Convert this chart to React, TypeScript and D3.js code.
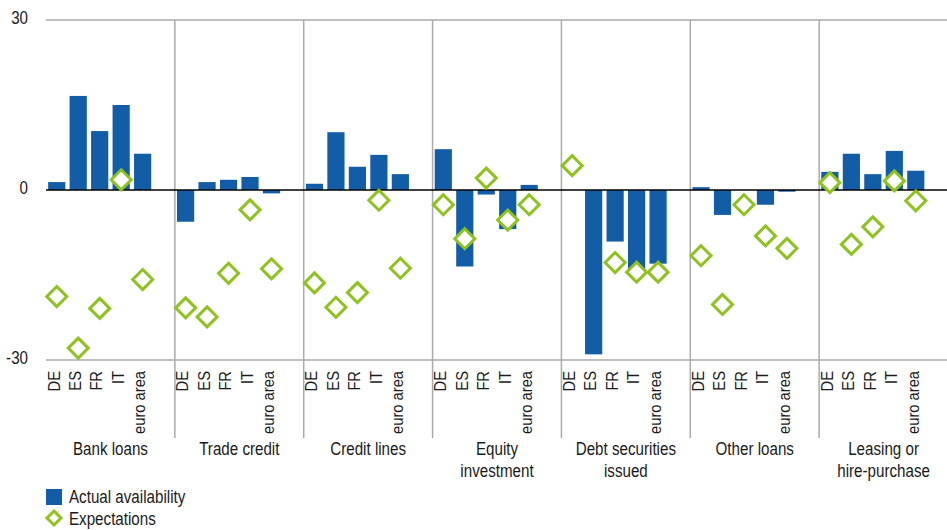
import React from "react";
import * as d3 from "d3";

const groups = [
  "Bank loans",
  "Trade credit",
  "Credit lines",
  "Equity investment",
  "Debt securities issued",
  "Other loans",
  "Leasing or hire-purchase",
];
const groupTitleLines = [
  ["Bank loans"],
  ["Trade credit"],
  ["Credit lines"],
  ["Equity", "investment"],
  ["Debt securities", "issued"],
  ["Other loans"],
  ["Leasing or", "hire-purchase"],
];
const countries = ["DE", "ES", "FR", "IT", "euro area"];

// Actual availability (bars), one row per group, columns = countries
const bankLoansActual = [1.4, 16.6, 10.4, 15.0, 6.4];
const tradeCreditActual = [-5.6, 1.4, 1.8, 2.3, -0.6];
const creditLinesActual = [1.1, 10.2, 4.1, 6.2, 2.8];
const equityActual = [7.2, -13.5, -0.8, -6.9, 0.9];
const debtActual = [null, -29.0, -9.1, -14.1, -13.0];
const otherLoansActual = [0.5, -4.4, null, -2.6, -0.3];
const leasingActual = [3.2, 6.4, 2.8, 6.9, 3.4];

// Expectations (diamonds)
const bankLoansExp = [-18.8, -27.9, -20.9, 1.8, -15.8];
const tradeCreditExp = [-20.8, -22.4, -14.7, -3.5, -13.9];
const creditLinesExp = [-16.4, -20.7, -18.1, -1.8, -13.8];
const equityExp = [-2.6, -8.6, 2.1, -5.3, -2.6];
const debtExp = [4.3, null, -12.8, -14.5, -14.5];
const otherLoansExp = [-11.6, -20.2, -2.6, -8.1, -10.3];
const leasingExp = [1.3, -9.6, -6.5, 1.6, -1.9];

const yTicks = [30, 0, -30];

const actual = [
  bankLoansActual,
  tradeCreditActual,
  creditLinesActual,
  equityActual,
  debtActual,
  otherLoansActual,
  leasingActual,
];
const expectations = [
  bankLoansExp,
  tradeCreditExp,
  creditLinesExp,
  equityExp,
  debtExp,
  otherLoansExp,
  leasingExp,
];

const W = 947;
const H = 530;
const left = 46;
const right = 948;
const top = 20;
const bottom = 360;

const BLUE = "#135ca6";
const GREEN = "#8dc21f";
const GRID = "#aaaaaa";
const FONT = "'Liberation Sans', Arial, sans-serif";
const SQ = 0.82; // horizontal condensing to mimic a narrow face
const TXT = "#1a1a1a";

export default function App() {
  const x0 = d3.scaleBand<string>().domain(groups).range([left, right]);
  const gw = x0.bandwidth();
  const x1 = d3
    .scaleBand<string>()
    .domain(countries)
    .range([0, (gw * 5) / 6])
    .paddingInner(0.2)
    .paddingOuter(0.1);
  const y = d3.scaleLinear().domain([-30, 30]).range([bottom, top]);
  const bw = x1.bandwidth();
  const ds = 10;
  const diamond = (cx: number, cy: number, r: number) =>
    `M${cx},${cy - r}L${cx + r},${cy}L${cx},${cy + r}L${cx - r},${cy}Z`;

  const NText = (p: {
    x: number;
    y: number;
    anchor?: string;
    size?: number;
    children: React.ReactNode;
  }) => (
    <text
      transform={`translate(${p.x},${p.y}) scale(${SQ},1)`}
      textAnchor={p.anchor || "start"}
      fontFamily={FONT}
      fontSize={p.size || 18.5}
      fill={TXT}
    >
      {p.children}
    </text>
  );

  return (
    <svg
      width={W}
      height={H}
      style={{ position: "absolute", left: 0, top: 0, background: "#fff" }}
    >
      {/* grid lines */}
      <line x1={left} x2={W} y1={y(30)} y2={y(30)} stroke={GRID} strokeWidth={1.5} />
      <line x1={left} x2={W} y1={y(-30)} y2={y(-30)} stroke={GRID} strokeWidth={1.5} />
      {groups.slice(1).map((g) => (
        <line
          key={g}
          x1={x0(g)!}
          x2={x0(g)!}
          y1={y(30)}
          y2={438}
          stroke={GRID}
          strokeWidth={1.5}
        />
      ))}
      {/* y ticks */}
      {yTicks.map((t) => (
        <NText key={t} x={28} y={y(t) + 3.5} anchor="end" size={18.5}>
          {t}
        </NText>
      ))}
      {/* bars */}
      {groups.map((g, gi) =>
        countries.map((c, ci) => {
          const v = actual[gi][ci];
          if (v === null || v === undefined) return null;
          const bx = x0(g)! + x1(c)!;
          return (
            <rect
              key={g + c}
              x={bx}
              width={bw}
              y={Math.min(y(v), y(0))}
              height={Math.abs(y(v) - y(0))}
              fill={BLUE}
            />
          );
        })
      )}
      {/* zero line */}
      <line x1={left} x2={W} y1={y(0)} y2={y(0)} stroke="#000" strokeWidth={1.5} />
      {/* diamonds */}
      {groups.map((g, gi) =>
        countries.map((c, ci) => {
          const v = expectations[gi][ci];
          if (v === null || v === undefined) return null;
          const cx = x0(g)! + x1(c)! + bw / 2;
          return (
            <path
              key={"e" + g + c}
              d={diamond(cx, y(v), ds)}
              fill="#fff"
              stroke={GREEN}
              strokeWidth={3}
            />
          );
        })
      )}
      {/* country labels */}
      {groups.map((g) =>
        countries.map((c) => {
          const cx = x0(g)! + x1(c)! + bw / 2 - 3;
          return (
            <text
              key={"l" + g + c}
              transform={`translate(${cx},371) rotate(-90) scale(0.92,1)`}
              textAnchor="end"
              dy="0.36em"
              fontFamily={FONT}
              fontSize={16}
              fill={TXT}
            >
              {c}
            </text>
          );
        })
      )}
      {/* group titles */}
      {groups.map((g, gi) =>
        groupTitleLines[gi].map((line, li) => (
          <NText
            key={"t" + g + li}
            x={x0(g)! + gw / 2}
            y={455 + li * 21.7}
            anchor="middle"
          >
            {line}
          </NText>
        ))
      )}
      {/* legend */}
      <rect x={46} y={489} width={16} height={16} fill={BLUE} />
      <NText x={69} y={502.5}>
        Actual availability
      </NText>
      <path d={diamond(54, 518, 7)} fill="#fff" stroke={GREEN} strokeWidth={3} />
      <NText x={69} y={525}>
        Expectations
      </NText>
    </svg>
  );
}
